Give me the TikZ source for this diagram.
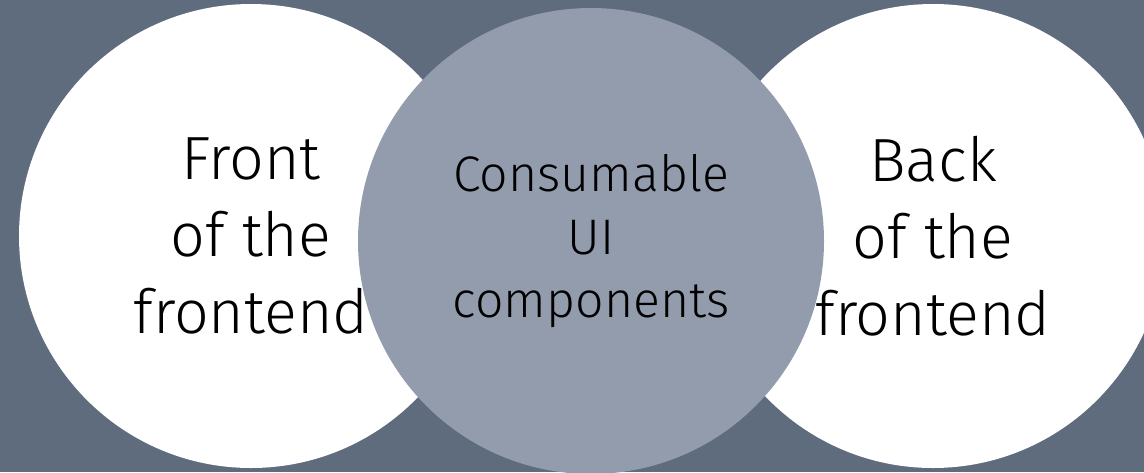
\documentclass[tikz,border=0pt]{standalone}
\usepackage{fontspec}
\setmainfont{Fira Sans Light}
\usepackage{tikz}
\usetikzlibrary{positioning}
\definecolor{slate}{HTML}{5E6C7D}
\definecolor{mist}{HTML}{939CAD}
\tikzset{
  disc/.style={circle, inner sep=0pt, minimum size=464pt, align=center, text=black},
  bigtext/.style={font=\fontsize{61}{77}\selectfont},
  midtext/.style={font=\fontsize{50}{63}\selectfont}
}

\begin{document}
\begin{tikzpicture}[x=1pt,y=-1pt]
	\fill[slate] (0,0) rectangle (1144,472);
	\useasboundingbox (0,0) rectangle (1144,472);
	% outer discs first, the middle one sits on top
	\node[disc,fill=white,bigtext] (front) at (251,236) {Front\\of the\\frontend};
	\node[disc,fill=white,bigtext] (back) at (933,236) {Back\\of the\\frontend};
	\node[disc,fill=mist,midtext,minimum size=466pt] (ui) at (591,241) {Consumable\\UI\\components};
\end{tikzpicture}
\end{document}
